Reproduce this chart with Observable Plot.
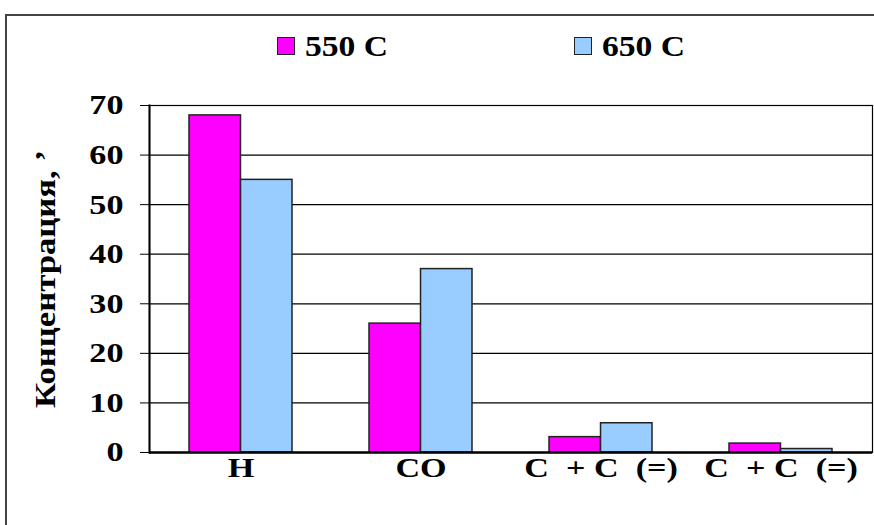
<!DOCTYPE html>
<html>
<head>
<meta charset="utf-8">
<script src="https://cdn.jsdelivr.net/npm/d3@7"></script>
<script src="https://cdn.jsdelivr.net/npm/@observablehq/plot@0.6"></script>
<style>
  html, body { margin: 0; padding: 0; background: #fff; overflow: hidden; }
  #wrap { position: relative; width: 874px; height: 525px; }
  #border { position: absolute; left: 5px; top: 14px; width: 900px; height: 600px;
            border: 2px solid #444; box-sizing: border-box; pointer-events: none; }
  #legend { position: absolute; top: 29px; left: 0; width: 874px; height: 40px;
            font-family: "Liberation Serif", "Times New Roman", Tinos, "DejaVu Serif", serif;
            font-weight: bold; font-size: 30px; color: #000; }
  .item { position: absolute; top: 0; display: flex; align-items: center; gap: 10px; }
  .swatch { width: 16px; height: 16px; border: 1.5px solid #222; }
  .item span { display: inline-block; transform: scaleX(1.12); transform-origin: left center; }
  #chart svg text { white-space: pre;
            font-family: "Liberation Serif", "Times New Roman", Tinos, "DejaVu Serif", serif;
            font-weight: bold; font-size: 28px; fill: #000; }
</style>
</head>
<body>
<div id="wrap">
  <div id="chart"></div>
  <div id="legend"></div>
  <div id="border"></div>
</div>
<script>
// Gas composition by product, two pyrolysis temperatures
const categories = ["H", "CO", "C  + C  (=)", "C  + C  (=)"];
const series = ["550 C", "650 C"];
const values550 = [68, 26, 3.1, 1.8];
const values650 = [55, 37, 5.9, 0.7];
const yTicks = [0, 10, 20, 30, 40, 50, 60, 70];
const colors = ["#FF00FF", "#99CCFF"];

const rows550 = categories.map((c, i) => ({cat: i, series: series[0], value: values550[i]}));
const rows650 = categories.map((c, i) => ({cat: i, series: series[1], value: values650[i]}));

// Layout of the category bands; each band holds the two temperature bars side by side
const W = 874, H = 525, mL = 149, mR = 2, mT = 105, mB = 73;
const padIn = 0.43, padOut = 0.215;
const step = (W - mL - mR) / (categories.length - padIn + 2 * padOut);
const half = step * (1 - padIn) / 2;

const barStyle = {x: "cat", y: "value", fill: "series", stroke: "#222", strokeWidth: 1.5};

const chart = Plot.plot({
  width: W,
  height: H,
  marginLeft: mL,
  marginRight: mR,
  marginTop: mT,
  marginBottom: mB,
  style: {background: "transparent", color: "#000"},
  x: {domain: categories.map((_, i) => i), paddingInner: padIn, paddingOuter: padOut,
      tickFormat: i => categories[i], label: null, tickSize: 0, tickPadding: 5},
  y: {domain: [0, 70], ticks: yTicks, tickSize: 9, tickPadding: 17, tickFormat: d => d,
      label: "Концентрация, ’", labelAnchor: "center", labelArrow: "none", labelOffset: 116},
  color: {domain: series, range: colors},
  marks: [
    Plot.ruleY(yTicks.slice(1), {stroke: "#000", strokeWidth: 1.2}),
    Plot.frame({stroke: "#000", strokeWidth: 1.2}),
    Plot.barY(rows550, {...barStyle, insetRight: half}),
    Plot.barY(rows650, {...barStyle, insetLeft: half}),
    Plot.frame({anchor: "left", stroke: "#000", strokeWidth: 2}),
    Plot.ruleY([0], {stroke: "#000", strokeWidth: 2.5})
  ]
});
document.getElementById("chart").appendChild(chart);

// Wide lettering for the axis texts
chart.querySelectorAll("g[aria-label$='tick label'] text").forEach(t => {
  const len = t.getComputedTextLength();
  t.setAttribute("textLength", len * 1.22);
  t.setAttribute("lengthAdjust", "spacingAndGlyphs");
});
chart.querySelectorAll("g[aria-label='y-axis label'] text").forEach(t => {
  t.style.fontSize = "30px";
  t.setAttribute("textLength", 258);
  t.setAttribute("lengthAdjust", "spacingAndGlyphs");
});

// Legend
const legend = document.getElementById("legend");
const legendX = [277, 574];
series.forEach((s, i) => {
  const item = document.createElement("div");
  item.className = "item";
  item.style.left = legendX[i] + "px";
  const sw = document.createElement("div");
  sw.className = "swatch";
  sw.style.background = colors[i];
  const label = document.createElement("span");
  label.textContent = s;
  item.appendChild(sw);
  item.appendChild(label);
  legend.appendChild(item);
});
</script>
</body>
</html>
